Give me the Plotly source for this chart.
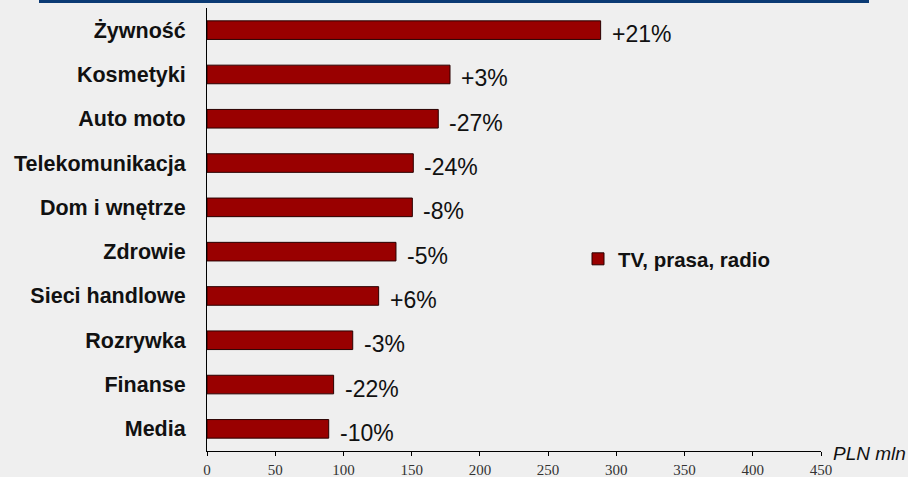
import plotly.graph_objects as go

# Advertising spend by sector, PLN mln (TV, press, radio) with year-on-year change
categories = ["Żywność", "Kosmetyki", "Auto moto", "Telekomunikacja", "Dom i wnętrze",
              "Zdrowie", "Sieci handlowe", "Rozrywka", "Finanse", "Media"]
spend = [288.5, 178.1, 169.5, 151.2, 150.5, 138.5, 125.8, 106.8, 92.8, 89.2]
change = ["+21%", "+3%", "-27%", "-24%", "-8%", "-5%", "+6%", "-3%", "-22%", "-10%"]
x_ticks = [0, 50, 100, 150, 200, 250, 300, 350, 400, 450]
series_name = "TV, prasa, radio"
unit_label = "PLN mln"

BAR_RED = "#990000"
BG = "#efefef"
SANS = "Liberation Sans, Arial, sans-serif"

fig = go.Figure()
fig.add_trace(go.Bar(
    y=categories, x=spend, orientation="h", name=series_name,
    marker=dict(color=BAR_RED, line=dict(color="#2a0000", width=1)),
    width=0.42, showlegend=True,
))

# change labels to the right of each bar
for cat, val, txt in zip(categories, spend, change):
    fig.add_annotation(
        x=val, y=cat, xref="x", yref="y", text=txt, showarrow=False,
        xanchor="left", yanchor="middle", xshift=9, yshift=-4,
        font=dict(family=SANS, size=23, color="#111111"),
    )

# unit label at the end of the value axis
fig.add_annotation(
    x=1, y=0, xref="paper", yref="paper", text=f"<i>{unit_label}</i>", showarrow=False,
    xanchor="left", yanchor="middle", xshift=10, yshift=-2,
    font=dict(family=SANS, size=19, color="#111111"),
)

# dark blue band along the top edge
fig.add_shape(type="rect", xref="paper", yref="paper",
              x0=(39 - 207) / 614, x1=(869 - 207) / 614, y0=1 + 5 / 443, y1=1 + 10 / 443,
              fillcolor="#0b3a74", line=dict(width=0), layer="above")

fig.update_layout(
    width=908, height=477,
    margin=dict(l=207, r=87, t=8, b=26),
    paper_bgcolor=BG, plot_bgcolor=BG,
    showlegend=True,
    legend=dict(
        x=(578 - 207) / 614, y=(451 - 259) / 443, xanchor="left", yanchor="middle",
        bgcolor="rgba(0,0,0,0)", borderwidth=0,
        font=dict(family=SANS, size=20.5, color="#111111", weight="bold"),
    ),
    xaxis=dict(
        range=[0, 450], tickvals=x_ticks, ticktext=[str(v) for v in x_ticks],
        showgrid=False, zeroline=False, showline=True, linecolor="#000000", linewidth=1,
        ticks="outside", ticklen=4, tickcolor="#000000", ticklabelstandoff=1,
        tickfont=dict(family="Liberation Serif, Times New Roman, serif", size=15, color="#333333"),
        automargin=False, fixedrange=True,
    ),
    yaxis=dict(
        categoryorder="array", categoryarray=categories[::-1],
        range=[-0.5, 9.5], showgrid=False, zeroline=False,
        showline=True, linecolor="#000000", linewidth=1, ticks="",
        ticklabelstandoff=16,
        tickfont=dict(family=SANS, size=21.5, color="#111111", weight="bold"),
        automargin=False, fixedrange=True,
    ),
)

fig.write_html("out.html")
